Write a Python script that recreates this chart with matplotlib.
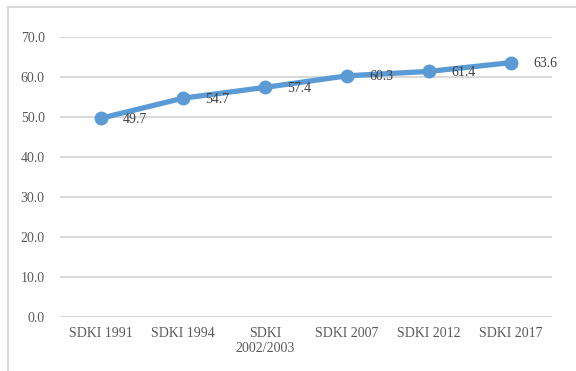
import matplotlib
matplotlib.use("Agg")
import matplotlib.pyplot as plt
from matplotlib.patches import Rectangle

surveys = ["SDKI 1991", "SDKI 1994", "SDKI\n2002/2003", "SDKI 2007", "SDKI 2012", "SDKI 2017"]
values = [49.7, 54.7, 57.4, 60.3, 61.4, 63.6]
y_ticks = [0, 10, 20, 30, 40, 50, 60, 70]

plt.rcParams["font.family"] = ["Liberation Serif", "DejaVu Serif"]

fig = plt.figure(figsize=(5.76, 3.71), dpi=100)
ax = fig.add_axes([60 / 576, 1 - 317 / 371, 492 / 576, 280 / 371])

# chart frame (only left and top edges fall inside the canvas)
fig.patches.append(Rectangle((8 / 576, -0.1), 1.2, 1 - 7 / 371 + 0.1,
                             transform=fig.transFigure, fill=False,
                             edgecolor="#D9D9D9", linewidth=1.5))

x = list(range(len(surveys)))
ax.plot(x, values, color="#5B9BD5", linewidth=3.8, marker="o",
        markersize=9, solid_capstyle="round", zorder=3)

for xi, v in zip(x, values):
    ax.annotate(f"{v:.1f}", (xi, v), xytext=(22, -1), textcoords="offset pixels",
                ha="left", va="center", fontsize=10, color="#404040", zorder=4)

ax.set_xlim(-0.5, len(surveys) - 0.5)
ax.set_ylim(0, 70)
ax.set_yticks(y_ticks)
ax.set_yticklabels([f"{t:.1f}" for t in y_ticks])
ax.set_xticks(x)
ax.set_xticklabels(surveys)

ax.grid(axis="y", color="#D9D9D9", linewidth=1.5)
ax.set_axisbelow(True)
for s in ax.spines.values():
    s.set_visible(False)
ax.tick_params(axis="both", length=0, labelsize=10, labelcolor="#595959")
ax.tick_params(axis="y", pad=11)
ax.tick_params(axis="x", pad=7)

fig.savefig("out.png", dpi=100)
